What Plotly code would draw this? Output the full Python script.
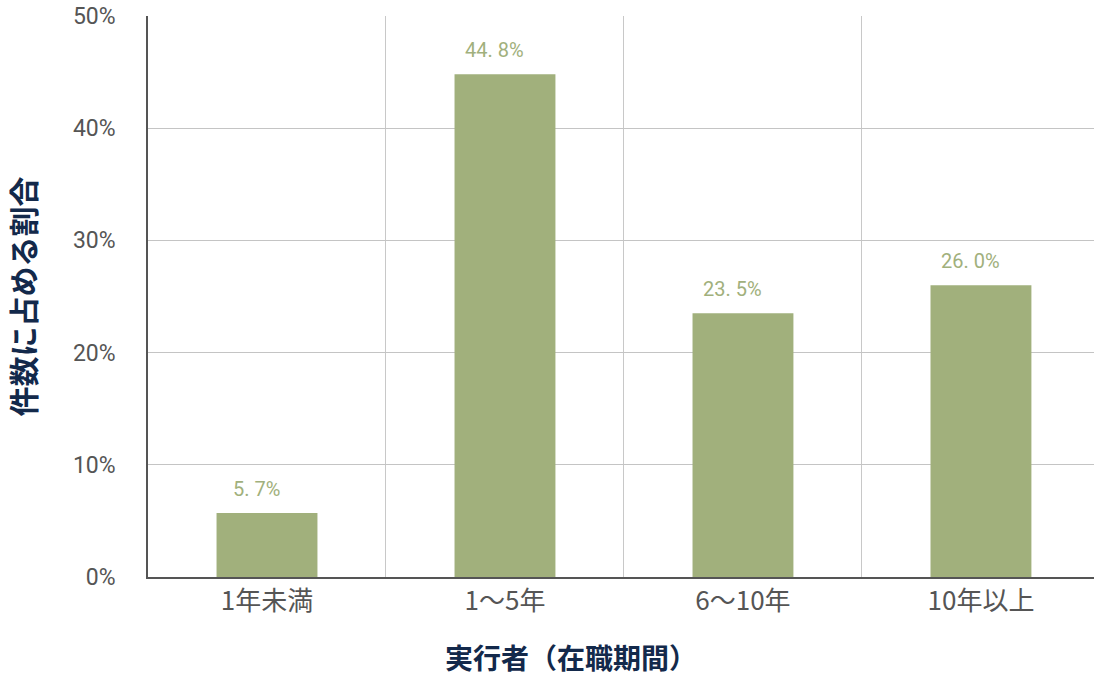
import plotly.graph_objects as go

categories = ["1年未満", "1～5年", "6～10年", "10年以上"]
values = [5.7, 44.8, 23.5, 26.0]
labels = ["5. 7%", "44. 8%", "23. 5%", "26. 0%"]
y_ticks = [0, 10, 20, 30, 40, 50]
y_ticktext = ["0%", "10%", "20%", "30%", "40%", "50%"]
x_title = "実行者（在職期間）"
y_title = "件数に占める割合"

bar_color = "#a1b07c"
title_color = "#13294b"
latin = "Roboto, sans-serif"
cjk = "'Noto Sans CJK JP', sans-serif"
x_pos = list(range(len(categories)))

fig = go.Figure()
fig.add_trace(go.Bar(x=x_pos, y=values, width=0.424, marker=dict(color=bar_color, line=dict(width=0)),
                     hoverinfo="skip"))

for xp, v, t in zip(x_pos, values, labels):
    fig.add_annotation(x=xp, y=v, text=t, showarrow=False, yanchor="bottom", yshift=10, xshift=-10,
                       font=dict(family=latin, size=20, color=bar_color))

fig.add_annotation(xref="paper", yref="paper", x=0.447, y=-0.1426, text=x_title, showarrow=False,
                   xanchor="center", yanchor="middle", borderpad=0,
                   font=dict(size=28, color=title_color, family=cjk, weight="bold"))

fig.update_layout(
    width=1094, height=677,
    margin=dict(l=148, r=0, t=16, b=100),
    plot_bgcolor="white", paper_bgcolor="white",
    showlegend=False,
    font=dict(family=cjk),
    xaxis=dict(
        range=[-0.5, 3.475], tickvals=x_pos, ticktext=categories,
        showgrid=False, zeroline=False,
        showline=True, linecolor="#555", linewidth=1.5,
        ticks="", tickfont=dict(size=26, color="#555", family=cjk),
        minor=dict(tickvals=[0.5, 1.5, 2.5], showgrid=True, gridcolor="#c8c8c8", gridwidth=1, ticks=""),
    ),
    yaxis=dict(
        range=[0, 50], tickvals=y_ticks, ticktext=y_ticktext,
        showgrid=True, gridcolor="#c4c4c4", gridwidth=1, zeroline=False,
        showline=True, linecolor="#555", linewidth=1.5,
        ticks="", ticklabelstandoff=26,
        tickfont=dict(size=23, color="#555", family=latin),
        title=dict(text=y_title, standoff=36,
                   font=dict(size=30, color=title_color, family=cjk, weight="bold")),
    ),
)

fig.write_html("out.html")
